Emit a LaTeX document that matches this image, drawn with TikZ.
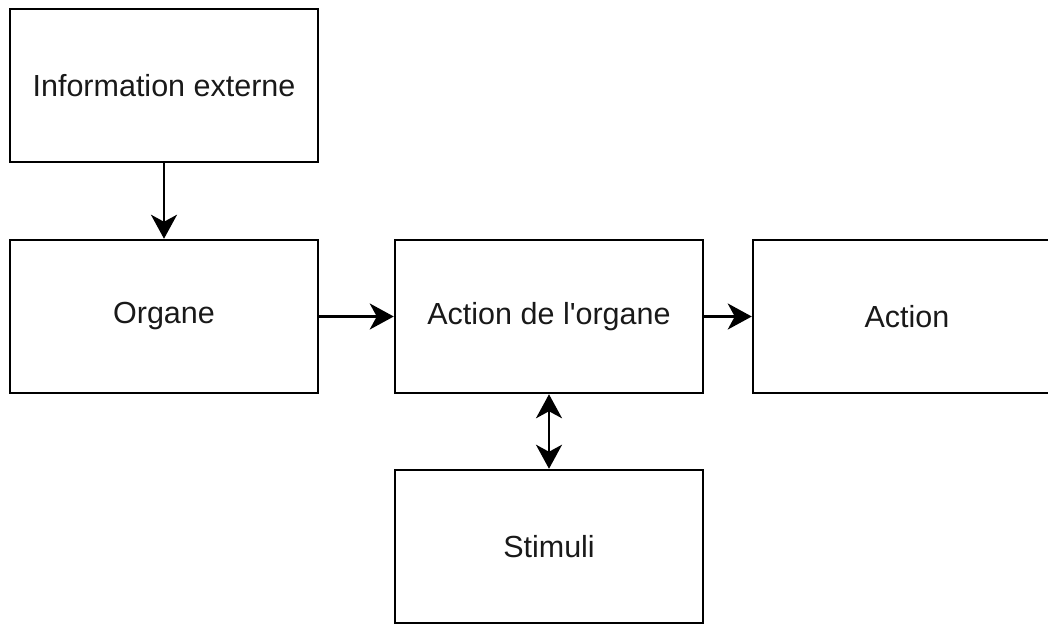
\documentclass[tikz,border=0pt]{standalone}
\usepackage{fontspec}
\setmainfont{Liberation Sans}
\usetikzlibrary{arrows.meta}
\begin{document}
\begin{tikzpicture}[x=1pt,y=-1pt,
  box/.style={draw=black,line width=2.5pt,minimum width=308pt,minimum height=153pt,inner sep=0pt,font=\fontsize{30.5}{34}\selectfont,text=black!90},
  conn/.style={line width=2.5pt,-{Stealth[length=24pt,width=26pt,inset=7pt]}},
  conn2/.style={line width=2.5pt,{Stealth[length=24pt,width=26pt,inset=7pt]}-{Stealth[length=24pt,width=26pt,inset=7pt]}}]
\useasboundingbox (0,0) rectangle (1048,624);
\clip (0,0) rectangle (1048,624);
\node[box] (info) at (164,85.5) {Information externe};
\node[box] (org) at (164,316.5) {Organe};
\node[box] (act) at (549,316.5) {Action de l\textquotesingle organe};
\node[box] (fin) at (907,316.5) {Action};
\node[box] (stim) at (549,546.5) {Stimuli};
\draw[conn] (info) -- (org);
\draw[conn] (org) -- (act);
\draw[conn] (act) -- (fin);
\draw[conn2] (act) -- (stim);
\end{tikzpicture}
\end{document}
